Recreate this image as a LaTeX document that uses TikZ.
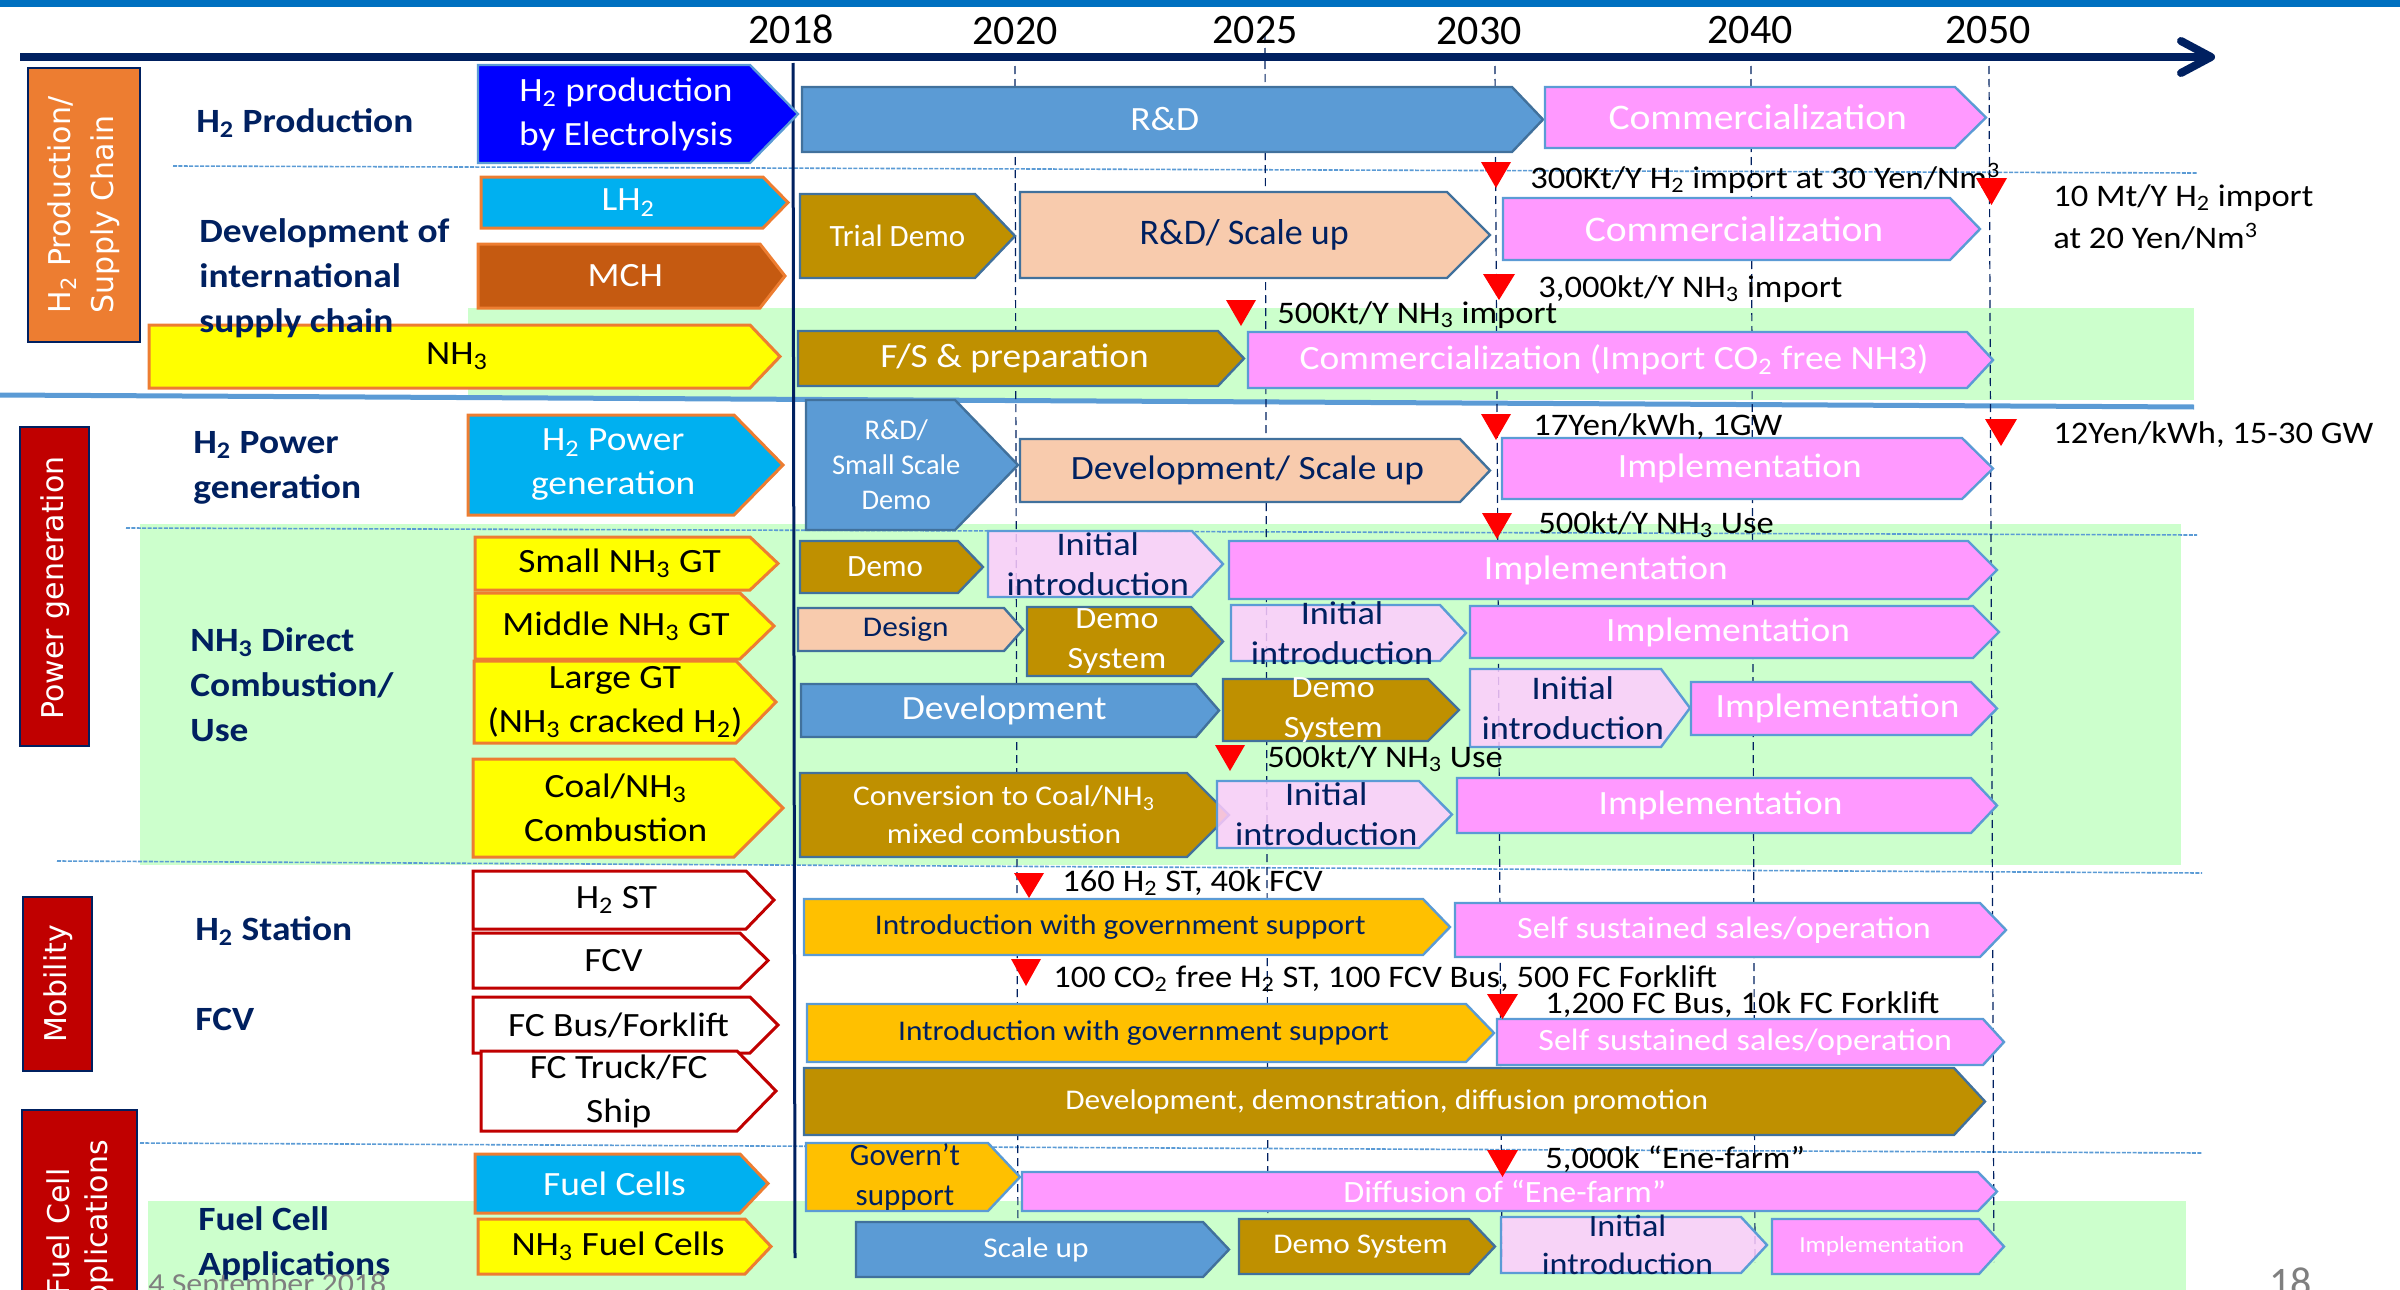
\documentclass[tikz,border=0pt]{standalone}
\usepackage{fontspec}
\setmainfont{Carlito}[FakeStretch=1.1]
\newfontfamily\plainfont{Carlito}
\newfontfamily\catfont{DejaVu Sans}
\definecolor{cNavy}{HTML}{002060}
\definecolor{cTop}{HTML}{0070C0}
\definecolor{cSep}{HTML}{5B9BD5}
\definecolor{cGreen}{HTML}{CCFFCC}
\definecolor{cOrange}{HTML}{ED7D31}
\definecolor{cRed}{HTML}{C00000}
\definecolor{cElec}{HTML}{0000FF}
\definecolor{cCyan}{HTML}{00B0F0}
\definecolor{cMCH}{HTML}{C55A11}
\definecolor{cYel}{HTML}{FFFF00}
\definecolor{cSblue}{HTML}{5B9BD5}
\definecolor{cSborder}{HTML}{41719C}
\definecolor{cGold}{HTML}{BF9000}
\definecolor{cPeach}{HTML}{F8CBAD}
\definecolor{cPink}{HTML}{FF99FF}
\definecolor{cLpink}{HTML}{FFCCFF}
\definecolor{cAmber}{HTML}{FFC000}
\definecolor{cMark}{HTML}{FF0000}
\definecolor{cGray}{HTML}{7F7F7F}
\newcommand\tsub[1]{\textsubscript{#1}}
\newcommand\tsup[1]{\textsuperscript{#1}}
\newcommand\fs[2]{\fontsize{#1}{#2}\selectfont}
% #1 shape style, #2 text style, #3 name, #4 x1, #5 y1, #6 x body end, #7 x tip, #8 y2, #9 text
\newcommand\pent[9]{%
  \draw[#1] (#4,#5) -- (#6,#5) -- (#7,{(#5+#8)/2}) -- (#6,#8) -- (#4,#8) -- cycle;
  \node[#2] (#3) at ({(#4+(#6+#7)/2)/2},{(#5+#8)/2}) {#9};}
\newcommand\redmark[4]{\fill[cMark] (#1,#2) -- (#3,#2) -- ({(#1+#3)/2},#4) -- cycle;}
\tikzset{
  shp/.style={line width=1.2pt, line join=miter},
  elec/.style={shp, fill=cElec, draw=cSep},
  cyanO/.style={shp, fill=cCyan, draw=cOrange, line width=1.5pt},
  mch/.style={shp, fill=cMCH, draw=cOrange, line width=1.5pt},
  yelO/.style={shp, fill=cYel, draw=cOrange, line width=1.5pt},
  whR/.style={shp, fill=white, draw=cRed, line width=1.5pt},
  sblue/.style={shp, fill=cSblue, draw=cSborder},
  gold/.style={shp, fill=cGold, draw=cSborder},
  peach/.style={shp, fill=cPeach, draw=cSborder},
  pink/.style={shp, fill=cPink, draw=cSep},
  lpink/.style={shp, fill=cLpink, fill opacity=0.85, draw=cSep},
  amber/.style={shp, fill=cAmber, draw=cSep},
  wtxt/.style={text=white, inner sep=0pt, align=center},
  ktxt/.style={text=black, inner sep=0pt, align=center},
  ntxt/.style={text=cNavy, inner sep=0pt, align=center},
  f23/.style={font=\fs{11.5}{14}},
  f28/.style={font=\fs{14.25}{19}},
  f31/.style={font=\fs{15.5}{20}},
  f33/.style={font=\fs{16.5}{20}},
  f34/.style={font=\fs{17}{22}},
  f36/.style={font=\fs{18}{23}},
  pf28s/.style={font=\plainfont\fs{14.25}{17.5}},
  pf31/.style={font=\plainfont\fs{15.5}{20}},
  lbl/.style={text=cNavy, font=\bfseries\fs{17}{22.5}, align=left, inner sep=0pt},
  mlbl/.style={text=black, font=\fs{15.7}{20}, align=left, inner sep=0pt, anchor=base west},
  year/.style={text=black, font=\plainfont\fs{21}{25}, inner sep=0pt, anchor=base},
  cattxt/.style={rotate=90, text=white, font=\catfont\fs{15}{21.5}, inner sep=0pt},
  catbox/.style={draw=cNavy, line width=0.8pt},
  sepdash/.style={cSep, line width=0.8pt, dash pattern=on 2pt off 0.7pt},
  ydash/.style={cNavy, line width=0.6pt, dash pattern=on 4pt off 2.5pt},
}
\begin{document}
\begin{tikzpicture}[x=0.5pt,y=-0.5pt]
\useasboundingbox (0,0) rectangle (2400,1290);
\clip (0,0) rectangle (2400,1290);
% green backgrounds
\fill[cGreen] (468,308) rectangle (2194,400);
\fill[cGreen] (140,524) rectangle (2181,865);
\fill[cGreen] (148,1201) rectangle (2186,1290);
% top bar
\fill[cTop] (0,0) rectangle (2400,7);
% separators
\draw[sepdash] (173,166) -- (2197,173);
\draw[sepdash] (126,528) -- (2197,535);
\draw[sepdash] (57,861) -- (2202,873);
\draw[sepdash] (140,1143) -- (2202,1153);
\draw[cSep, line width=2.5pt] (0,395) -- (2194,407);
% year dashed lines
\draw[ydash] (1015,66) -- (1018,1262);
\draw[ydash] (1265,35) -- (1268,1262);
\draw[ydash] (1495,66) -- (1502,1262);
\draw[ydash] (1751,66) -- (1755,1262);
\draw[ydash] (1989,66) -- (1994,1262);
% 2018 line
\draw[cNavy, line width=1.5pt] (793,63) -- (795,1258);
% timeline
\draw[cNavy, line width=4pt] (20,57) -- (2205,57);
\draw[cNavy, line width=4pt, line cap=round, line join=round] (2181,41) -- (2211,57) -- (2181,73);
% years
\node[year] (y2018) at (791,43) {2018};
\node[year] (y2020) at (1015,45) {2020};
\node[year] (y2025) at (1255,43) {2025};
\node[year] (y2030) at (1479,45) {2030};
\node[year] (y2040) at (1750,43) {2040};
\node[year] (y2050) at (1988,43) {2050};
% category boxes
\draw[catbox, fill=cOrange] (28,68) rectangle (140,342);
\node[cattxt, align=left] (catSupply) at (84,205) {H\tsub{2} Production/\\Supply Chain};
\draw[catbox, fill=cRed] (20,427) rectangle (89,746);
\node[cattxt] (catPower) at (55,588) {Power generation};
\draw[catbox, fill=cRed] (23,897) rectangle (92,1071);
\node[cattxt] (catMob) at (58,984) {Mobility};
\draw[catbox, fill=cRed] (22,1110) rectangle (137,1360);
\node[cattxt, align=center, font=\catfont\fs{15}{19}] (catFC) at (80,1232) {Fuel Cell\\Applications};
% left column arrows
\pent{elec}{wtxt,f34}{lElec}{478}{65}{750}{798}{163}{H\tsub{2} production\\by Electrolysis}
\pent{cyanO}{wtxt,f34}{lLH}{481}{177}{763}{788}{228}{LH\tsub{2}}
\pent{mch}{wtxt,f34}{lMCH}{478}{244}{760}{785}{308}{MCH}
\pent{yelO}{ktxt,f34}{lNH}{149}{325}{750}{780}{388}{NH\tsub{3}}
\pent{cyanO}{wtxt,f34}{lH2P}{468}{415}{734}{783}{515}{H\tsub{2} Power\\generation}
\pent{yelO}{ktxt,f34}{lSmall}{475}{537}{750}{778}{590}{Small NH\tsub{3} GT}
\pent{yelO}{ktxt,f34}{lMid}{475}{593}{740}{774}{659}{Middle NH\tsub{3} GT}
\pent{yelO}{ktxt,f34}{lLarge}{474}{661}{736}{776}{743}{Large GT\\(NH\tsub{3} cracked H\tsub{2})}
\pent{yelO}{ktxt,f34}{lCoal}{473}{759}{734}{783}{857}{Coal/NH\tsub{3}\\Combustion}
\pent{whR}{ktxt,f34}{lST}{473}{871}{746}{774}{929}{H\tsub{2} ST}
\pent{whR}{ktxt,f34}{lFCV}{473}{933}{740}{768}{988}{FCV}
\pent{whR}{ktxt,f34}{lBus}{473}{997}{750}{778}{1053}{FC Bus/Forklift}
\pent{whR}{ktxt,f34}{lTruck}{481}{1051}{737}{776}{1131}{FC Truck/FC\\Ship}
\pent{cyanO}{wtxt,f34}{lFC}{475}{1154}{740}{768}{1213}{Fuel Cells}
\pent{yelO}{ktxt,f34}{lNHFC}{478}{1219}{745}{771}{1274}{NH\tsub{3} Fuel Cells}
% row labels
\node[lbl, anchor=base west] (rH2) at (196,132) {H\tsub{2} Production};
\node[lbl, anchor=west] (rDev) at (199,278) {Development of\\international\\supply chain};
\node[lbl, anchor=west] (rPow) at (193,468) {H\tsub{2} Power\\generation};
\node[lbl, anchor=west] (rNH) at (190,685) {NH\tsub{3} Direct\\Combustion/\\Use};
\node[lbl, anchor=base west] (rST) at (195,940) {H\tsub{2} Station};
\node[lbl, anchor=base west] (rFCV) at (195,1030) {FCV};
\node[lbl, anchor=west] (rFCA) at (198,1244) {Fuel Cell\\Applications};
% timeline bars
\pent{sblue}{wtxt,f34}{bRD}{802}{87}{1512}{1543}{152}{R\&D}
\pent{pink}{wtxt,f36}{bCom1}{1545}{87}{1955}{1986}{148}{Commercialization}
\pent{gold}{wtxt,pf31}{bTrial}{800}{194}{975}{1015}{278}{Trial Demo}
\pent{peach}{ntxt,f36,font=\plainfont\fs{18}{23}}{bRDS}{1020}{192}{1447}{1490}{278}{R\&D/ Scale up}
\pent{pink}{wtxt,f36}{bCom2}{1503}{198}{1950}{1980}{260}{Commercialization}
\pent{gold}{wtxt,f34}{bFS}{798}{331}{1218}{1244}{386}{F/S \& preparation}
\pent{pink}{wtxt,f34}{bCom3}{1248}{332}{1967}{1993}{388}{Commercialization (Import CO\tsub{2} free NH3)}
\pent{sblue}{wtxt,pf28s}{bRDSS}{806}{400}{955}{1018}{530}{R\&D/\\Small Scale\\Demo}
\pent{peach}{ntxt,f34}{bDev}{1020}{439}{1460}{1490}{502}{Development/ Scale up}
\pent{pink}{wtxt,f34}{bImp1}{1502}{438}{1962}{1993}{499}{Implementation}
\pent{gold}{wtxt,pf31}{bDemo1}{800}{541}{958}{983}{593}{Demo}
\pent{lpink}{ntxt,f33}{bInit1}{988}{531}{1192}{1223}{597}{Initial\\introduction}
\pent{pink}{wtxt,f34}{bImp2}{1229}{541}{1968}{1997}{599}{Implementation}
\pent{peach}{ntxt,f28}{bDesign}{798}{608}{1004}{1023}{651}{Design}
\pent{gold}{wtxt,f31}{bDemo2}{1027}{607}{1191}{1223}{676}{Demo\\System}
\pent{lpink}{ntxt,f33}{bInit2}{1231}{605}{1440}{1466}{661}{Initial\\introduction}
\pent{pink}{wtxt,f34}{bImp3}{1470}{606}{1973}{1999}{658}{Implementation}
\pent{sblue}{wtxt,f34}{bDevL}{801}{684}{1196}{1219}{737}{Development}
\pent{gold}{wtxt,f31}{bDemo3}{1223}{679}{1428}{1459}{741}{Demo\\System}
\pent{lpink}{ntxt,f33}{bInit3}{1470}{669}{1661}{1690}{747}{Initial\\introduction}
\pent{pink}{wtxt,f34}{bImp4}{1691}{682}{1971}{1997}{735}{Implementation}
\pent{gold}{wtxt,f28}{bConv}{800}{773}{1187}{1229}{857}{Conversion to Coal/NH\tsub{3}\\mixed combustion}
\pent{lpink}{ntxt,f33}{bInit4}{1217}{781}{1419}{1452}{848}{Initial\\introduction}
\pent{pink}{wtxt,f34}{bImp5}{1457}{778}{1971}{1997}{833}{Implementation}
\pent{amber}{ntxt,f28}{bIntro1}{804}{899}{1423}{1450}{955}{Introduction with government support}
\pent{pink}{wtxt,f31}{bSelf1}{1455}{903}{1980}{2006}{957}{Self sustained sales/operation}
\pent{amber}{ntxt,f28}{bIntro2}{807}{1004}{1466}{1494}{1062}{Introduction with government support}
\pent{pink}{wtxt,f31}{bSelf2}{1497}{1019}{1983}{2004}{1065}{Self sustained sales/operation}
\pent{gold}{wtxt,f28}{bDDD}{804}{1068}{1954}{1985}{1135}{Development, demonstration, diffusion promotion}
\pent{amber}{ntxt,pf31}{bGov}{806}{1143}{988}{1020}{1211}{Govern’t\\support}
\pent{pink}{wtxt,f31}{bEne}{1022}{1172}{1978}{1997}{1211}{Diffusion of “Ene-farm”}
\pent{sblue}{wtxt,f28}{bScale}{856}{1222}{1203}{1229}{1277}{Scale up}
\pent{gold}{wtxt,f28}{bDemo4}{1239}{1219}{1469}{1495}{1274}{Demo System}
\pent{lpink}{ntxt,f31,font=\fs{15.5}{19}}{bInit5}{1501}{1217}{1741}{1767}{1273}{Initial\\introduction}
\pent{pink}{wtxt,f23}{bImp6}{1772}{1219}{1979}{2004}{1274}{Implementation}
% milestones
\redmark{1481}{162}{1511}{188}
\node[mlbl] (m1) at (1530,188) {300Kt/Y H\tsub{2} import at 30 Yen/Nm\tsup{3}};
\redmark{1976}{178}{2007}{205}
\node[mlbl, anchor=north west, font=\fs{15.7}{21}] (m2) at (2053,184) {10 Mt/Y H\tsub{2} import\\at 20 Yen/Nm\tsup{3}};
\redmark{1483}{274}{1515}{300}
\node[mlbl] (m3) at (1538,297) {3,000kt/Y NH\tsub{3} import};
\redmark{1226}{300}{1256}{326}
\node[mlbl] (m4) at (1277,323) {500Kt/Y NH\tsub{3} import};
\redmark{1481}{414}{1511}{440}
\node[mlbl] (m5) at (1533,435) {17Yen/kWh, 1GW};
\redmark{1985}{419}{2017}{446}
\node[mlbl] (m6) at (2053,443) {12Yen/kWh, 15-30 GW};
\redmark{1482}{513}{1512}{539}
\node[mlbl] (m7) at (1538,533) {500kt/Y NH\tsub{3} Use};
\redmark{1215}{745}{1245}{771}
\node[mlbl] (m8) at (1267,767) {500kt/Y NH\tsub{3} Use};
\redmark{1014}{873}{1044}{898}
\node[mlbl] (m9) at (1062,891) {160 H\tsub{2} ST, 40k FCV};
\redmark{1011}{959}{1041}{986}
\node[mlbl] (m10) at (1053,987) {100 CO\tsub{2} free H\tsub{2} ST, 100 FCV Bus, 500 FC Forklift};
\redmark{1487}{994}{1518}{1019}
\node[mlbl] (m11) at (1545,1013) {1,200 FC Bus, 10k FC Forklift};
\redmark{1487}{1150}{1518}{1177}
\node[mlbl] (m12) at (1545,1168) {5,000k “Ene-farm”};
% footer
\node[text=cGray, font=\fs{14.5}{18}, inner sep=0pt, anchor=base west] (date) at (148,1293) {4 September 2018};
\node[text=cGray, font=\plainfont\fs{21}{25}, inner sep=0pt, anchor=base west] (page) at (2269,1296) {18};
\end{tikzpicture}
\end{document}
